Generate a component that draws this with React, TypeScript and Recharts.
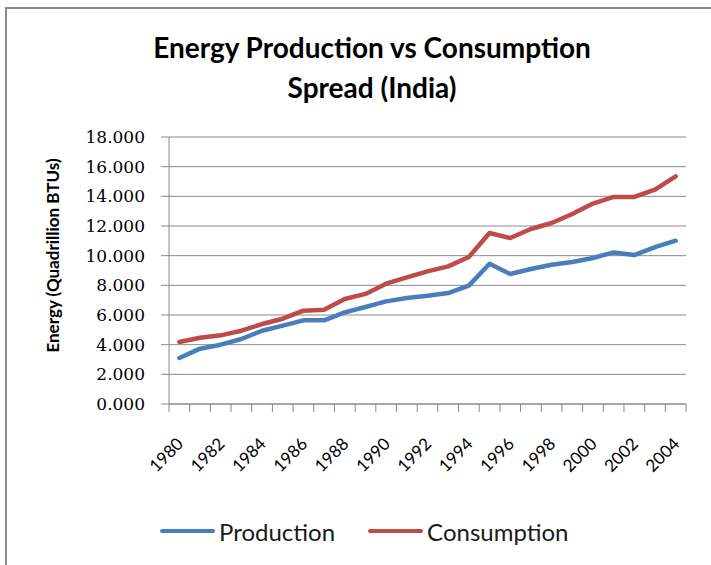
import { LineChart, Line, XAxis, YAxis, CartesianGrid, Legend, Label } from 'recharts'

const years = [
  1980, 1981, 1982, 1983, 1984, 1985, 1986, 1987, 1988, 1989, 1990, 1991, 1992,
  1993, 1994, 1995, 1996, 1997, 1998, 1999, 2000, 2001, 2002, 2003, 2004,
]
const production = [
  3.1, 3.73, 4.0, 4.38, 4.94, 5.28, 5.64, 5.64, 6.18, 6.54, 6.92, 7.15, 7.3,
  7.48, 7.98, 9.46, 8.76, 9.1, 9.39, 9.57, 9.84, 10.22, 10.04, 10.58, 11.01,
]
const consumption = [
  4.18, 4.47, 4.63, 4.94, 5.39, 5.75, 6.29, 6.36, 7.08, 7.42, 8.11, 8.54, 8.94,
  9.28, 9.91, 11.53, 11.19, 11.8, 12.2, 12.81, 13.51, 13.96, 13.96, 14.45, 15.35,
]
const yTicks = [0, 2, 4, 6, 8, 10, 12, 14, 16, 18]
const seriesOrder = ['Production', 'Consumption']

const data = years.map((year, i) => ({
  year,
  Production: production[i],
  Consumption: consumption[i],
}))

// tick marks sit between the years, like Excel's category axis
const boundaries = [...years.map(y => y - 0.5), years[years.length - 1] + 0.5]

const W = 711
const H = 565
const MARGIN = { top: 137, right: 25, bottom: 8, left: 49 }
const Y_AXIS_W = 120
const PLOT_W = W - MARGIN.left - MARGIN.right - Y_AXIS_W
const GRID = '#8a8a8a'

function YearTick(props: any) {
  const { x, y, payload } = props
  const year = payload.value + 0.5
  if (year > years[years.length - 1] || year % 2 !== 0) return null
  const half = PLOT_W / years.length / 2
  const ax = x + half + 5
  const ay = y + 31
  return (
    <text
      x={ax}
      y={ay}
      textAnchor="end"
      transform={`rotate(-45, ${ax}, ${ay})`}
      fontFamily="Lato"
      fontSize={17}
      fill="#000"
    >
      {year}
    </text>
  )
}

function LegendContent(props: any) {
  const payload = [...(props.payload || [])].sort(
    (a: any, b: any) => seriesOrder.indexOf(a.value) - seriesOrder.indexOf(b.value)
  )
  return (
    <div
      style={{
        height: 40,
        boxSizing: 'border-box',
        paddingBottom: 12,
        display: 'flex',
        alignItems: 'center',
        paddingLeft: 160,
      }}
    >
      {payload.map((p: any) => (
        <div key={p.value} style={{ display: 'flex', alignItems: 'center', marginRight: 33 }}>
          <span
            style={{ width: 55, height: 4, borderRadius: 2, background: p.color, marginRight: 4 }}
          />
          <span style={{ fontFamily: 'Lato', fontSize: 24, color: '#1a1a1a' }}>{p.value}</span>
        </div>
      ))}
    </div>
  )
}

export default function App() {
  return (
    <div style={{ position: 'absolute', left: 0, top: 0, width: W, height: H, background: '#fff' }}>
      <div
        style={{
          position: 'absolute',
          left: 5,
          top: 7,
          right: 0,
          bottom: 0,
          borderLeft: '2px solid #8c8c8c',
          borderTop: '2px solid #8c8c8c',
        }}
      />
      <div
        style={{
          position: 'absolute',
          left: 0,
          top: 27,
          width: 744,
          textAlign: 'center',
          fontFamily: 'Lato',
          fontWeight: 700,
          fontSize: 28,
          lineHeight: '40px',
          color: '#000',
        }}
      >
        Energy Production vs Consumption
        <br />
        Spread (India)
      </div>
      <div style={{ position: 'absolute', left: 0, top: 0 }}>
        <LineChart width={W} height={H} data={data} margin={MARGIN}>
          <CartesianGrid vertical={false} stroke={GRID} />
          <XAxis
            dataKey="year"
            type="number"
            domain={[boundaries[0], boundaries[boundaries.length - 1]]}
            ticks={boundaries}
            interval={0}
            height={113}
            tickSize={8}
            tick={<YearTick />}
            axisLine={{ stroke: GRID }}
            tickLine={{ stroke: GRID }}
          />
          <YAxis
            type="number"
            domain={[0, 18]}
            ticks={yTicks}
            interval={0}
            width={Y_AXIS_W}
            tickSize={8}
            tickMargin={16}
            tickFormatter={(v: number) => v.toFixed(3)}
            tick={{ fontFamily: 'DejaVu Serif', fontSize: 17, fill: '#000' }}
            axisLine={{ stroke: GRID }}
            tickLine={{ stroke: GRID }}
          >
            <Label
              content={(p: any) => {
                const vb = p.viewBox
                const cx = vb.x + 3
                const cy = vb.y + vb.height / 2 - 15
                return (
                  <text
                    x={cx}
                    y={cy}
                    textAnchor="middle"
                    dominantBaseline="central"
                    transform={`rotate(-90, ${cx}, ${cy})`}
                    fontFamily="Lato"
                    fontWeight={700}
                    fontSize={17}
                    fill="#000"
                  >
                    Energy (Quadrillion BTUs)
                  </text>
                )
              }}
            />
          </YAxis>
          <Legend
            verticalAlign="bottom"
            content={<LegendContent />}
            wrapperStyle={{ left: 0, width: W, bottom: MARGIN.bottom }}
          />
          <Line
            type="linear"
            dataKey="Production"
            stroke="#4a7ebb"
            strokeWidth={4.5}
            strokeLinecap="round"
            strokeLinejoin="round"
            dot={false}
            isAnimationActive={false}
          />
          <Line
            type="linear"
            dataKey="Consumption"
            stroke="#be4b48"
            strokeWidth={4.5}
            strokeLinecap="round"
            strokeLinejoin="round"
            dot={false}
            isAnimationActive={false}
          />
        </LineChart>
      </div>
    </div>
  )
}
